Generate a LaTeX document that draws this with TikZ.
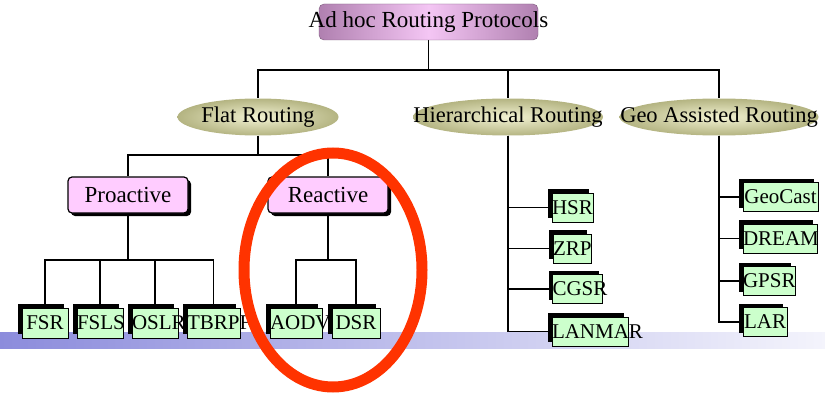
\documentclass[tikz,border=0pt]{standalone}
\usepackage{fontspec}
\setmainfont{Liberation Serif}
\usetikzlibrary{shapes.geometric, shadows, backgrounds}
\definecolor{rtpurple}{HTML}{B080B0}
\definecolor{rtpink}{HTML}{F4C6F4}
\definecolor{rtolive}{HTML}{B4B482}
\definecolor{rtcream}{HTML}{F2F2D2}
\definecolor{rtlilac}{HTML}{FFCCFF}
\definecolor{rtgreen}{HTML}{CCFFCC}
\definecolor{rtred}{HTML}{FF3300}
\definecolor{rtbarL}{HTML}{8C8CDC}
\definecolor{rtbarR}{HTML}{F4F4FC}

\tikzset{
  rootbox/.style={rectangle, rounded corners=5pt, draw=rtpurple!70!black,
    left color=rtpurple, right color=rtpurple, middle color=rtpink,
    minimum width=219pt, minimum height=36pt, inner sep=0pt,
    font=\fontsize{23}{25}\selectfont},
  family/.style={ellipse, draw=none, outer color=rtolive, inner color=rtcream,
    minimum width=#1, minimum height=37pt, inner sep=0pt,
    font=\fontsize{22.5}{24}\selectfont},
  kind/.style={rectangle, rounded corners=4pt, draw=black, line width=1.2pt,
    fill=rtlilac, minimum width=120pt, minimum height=36pt, inner sep=0pt,
    drop shadow={shadow xshift=3pt, shadow yshift=-3pt, fill=black, opacity=1},
    font=\fontsize{23}{25}\selectfont},
  proto/.style={rectangle, draw=black, line width=1pt, fill=rtgreen,
    text width=#1, align=center, inner xsep=0pt, inner ysep=0pt,
    minimum height=29pt,
    drop shadow={shadow xshift=-4pt, shadow yshift=4pt, fill=black, opacity=1},
    font=\fontsize{21}{23}\selectfont},
  link/.style={draw=black, line width=1.5pt},
}

\begin{document}
\begin{tikzpicture}[x=1pt, y=-1pt]
  \useasboundingbox (0,0) rectangle (825,396);

  \node[rootbox] (root) at (428.5,22) {\makebox[0pt]{Ad hoc Routing Protocols}};

  \node[family=161pt] (flat) at (258,117) {\makebox[0pt]{Flat Routing}};
  \node[family=190pt] (hier) at (508,117) {\makebox[0pt]{Hierarchical Routing}};
  \node[family=199pt] (geo) at (719,117) {\makebox[0pt]{Geo Assisted Routing}};

  \node[kind] (pro) at (128,195) {Proactive};
  \node[kind] (re) at (328,195) {Reactive};

  % protocols
  \foreach \n/\x/\w in {FSR/45/46, FSLS/100/46, OSLR/155/46, TBRPF/213.5/53,
      AODV/296/52, DSR/356/48}
    \node[proto=\w pt, minimum height=30pt] (\n) at (\x,323) {\n};
  \foreach \n/\x/\y/\w in {HSR/572.5/207.5/41, ZRP/572/248.5/38,
      CGSR/577.5/289/50, LANMAR/590/331.5/76}
    \node[proto=\w pt] (\n) at (\x,\y) {\n};
  \foreach \n/\x/\y/\w in {GeoCast/780.5/197/75, DREAM/780/238.5/74,
      GPSR/769/281/52, LAR/765/322/44}
    \node[proto=\w pt] (\n) at (\x,\y) {\n};

  \begin{scope}[on background layer]
    \shade[left color=rtbarL, right color=rtbarR] (0,332) rectangle (825,348);
    \coordinate (topbus) at (0,70);
    \coordinate (flatbus) at (0,155);
    \coordinate (leafbus) at (0,260);
    \draw[link] (root.south) -- (root.south |- topbus);
    \foreach \n in {flat, hier, geo}
      \draw[link] (root.south |- topbus) -| (\n.north);
    \draw[link] (flat.south) -- (flat.south |- flatbus);
    \draw[link] (flat.south |- flatbus) -| (pro.north);
    \draw[link] (flat.south |- flatbus) -| (re.north);
    \draw[link] (pro.south) -- (pro.south |- leafbus);
    \foreach \n in {FSR, FSLS, OSLR, TBRPF}
      \draw[link] (pro.south |- leafbus) -| (\n.north);
    \draw[link] (re.south) -- (re.south |- leafbus);
    \foreach \n in {AODV, DSR}
      \draw[link] (re.south |- leafbus) -| (\n.north);
    \foreach \n in {HSR, ZRP, CGSR, LANMAR}
      \draw[link] (hier.south) |- (\n.west);
    \foreach \n in {GeoCast, DREAM, GPSR, LAR}
      \draw[link] (geo.south) |- (\n.west);
  \end{scope}

  \draw[rtred, line width=11pt] (333,270) ellipse [x radius=89, y radius=117];
\end{tikzpicture}
\end{document}
